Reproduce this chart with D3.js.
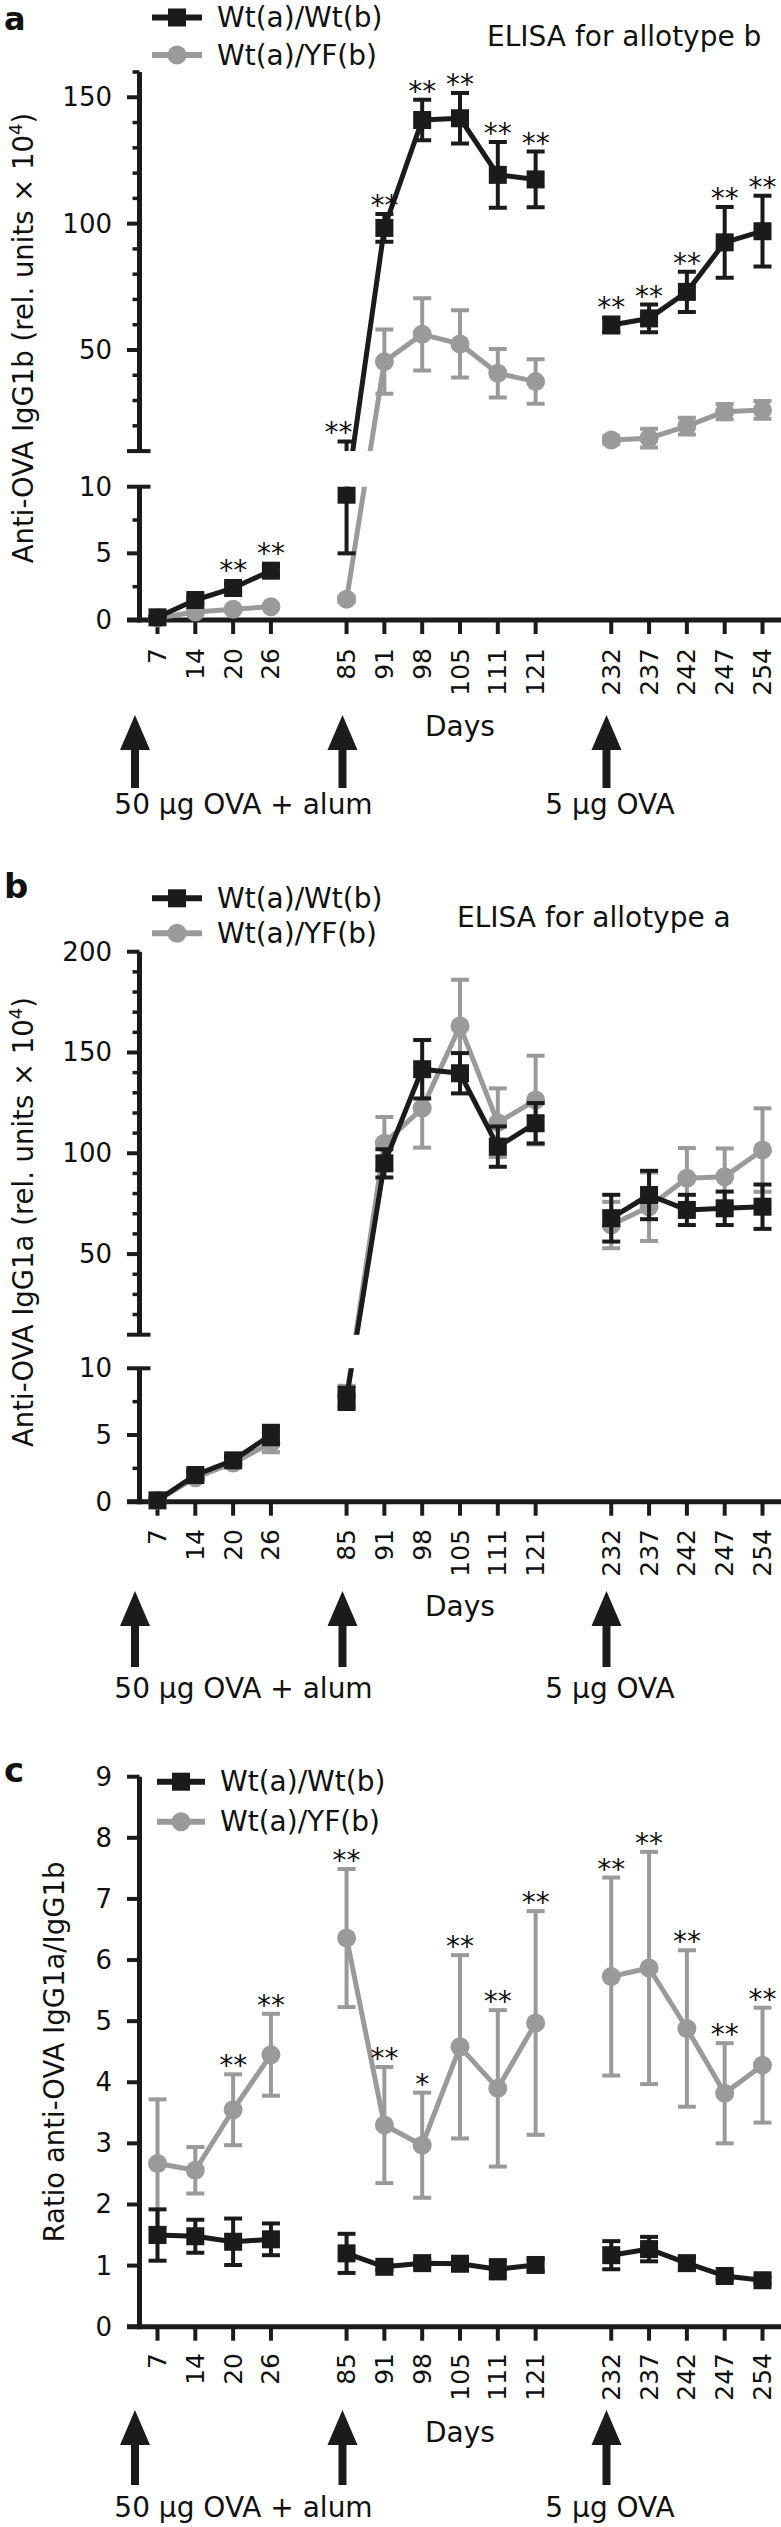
<!DOCTYPE html>
<html><head><meta charset="utf-8">
<script src="https://cdn.jsdelivr.net/npm/d3@7/dist/d3.min.js"></script>
<style>
body{margin:0;background:#fff}
text{font-family:"DejaVu Sans",sans-serif;fill:#111}
</style>
</head><body>
<svg id="chart" width="781" height="2527"></svg>
<script>
// ---------------- DATA ----------------
const dayGroups = [[7,14,20,26],[85,91,98,105,111,121],[232,237,242,247,254]];
const days = dayGroups.flat();
const seriesNames = ["Wt(a)/Wt(b)", "Wt(a)/YF(b)"];

// Panel a: ELISA for allotype b (rel. units x 10^4)
const aWt    = [0.2, 1.5, 2.4, 3.7, 9.4, 98.3, 141, 141.7, 119.3, 117.5, 59.9, 62.5, 73, 92.6, 97];
const aWtErr = [0.1, 0.2, 0.3, 0.3, 4.4, 5.5, 8, 10, 13, 11, 3, 5.5, 8, 14, 14];
const aYF    = [0.15, 0.6, 0.8, 1.0, 1.55, 45.4, 56.2, 52.4, 40.8, 37.5, 14.4, 15.1, 19.9, 25.6, 26.3];
const aYFErr = [0.05, 0.1, 0.1, 0.1, 0.2, 12.7, 14.3, 13.3, 9.6, 8.8, 1.5, 3.7, 3.3, 3, 3.5];
const aStars = ["", "", "**", "**", "**", "**", "**", "**", "**", "**", "**", "**", "**", "**", "**"];

// Panel b: ELISA for allotype a
const bWt    = [0.1, 2.0, 3.1, 5.0, 7.75, 95, 141.7, 139.7, 103.3, 114.9, 67.8, 79.3, 71.9, 72.7, 73.5];
const bWtErr = [0.1, 0.3, 0.3, 0.7, 0.8, 7, 14.5, 10, 10, 10, 11.6, 12, 7.5, 8.3, 11];
const bYF    = [0.1, 1.8, 2.9, 4.4, 7.9, 105, 122.3, 163.1, 115.2, 126.4, 64.4, 73.5, 87.6, 88.4, 101.6];
const bYFErr = [0.1, 0.3, 0.3, 0.7, 0.8, 13, 19.5, 23, 17, 22, 11.5, 17, 15, 14, 20.7];

// Panel c: ratio IgG1a/IgG1b
const cWt    = [1.50, 1.48, 1.39, 1.43, 1.20, 0.98, 1.04, 1.03, 0.94, 1.01, 1.17, 1.27, 1.04, 0.83, 0.76];
const cWtErr = [0.42, 0.27, 0.38, 0.26, 0.32, 0.05, 0.05, 0.05, 0.15, 0.10, 0.23, 0.20, 0.10, 0.05, 0.05];
const cYF    = [2.67, 2.56, 3.55, 4.45, 6.36, 3.30, 2.97, 4.58, 3.90, 4.97, 5.73, 5.87, 4.88, 3.82, 4.28];
const cYFErr = [1.05, 0.38, 0.58, 0.67, 1.13, 0.95, 0.86, 1.50, 1.28, 1.83, 1.62, 1.90, 1.28, 0.82, 0.94];
const cStars = ["", "", "**", "**", "**", "**", "*", "**", "**", "**", "**", "**", "**", "**", "**"];

const immunizations = ["50 \u00b5g OVA + alum", "5 \u00b5g OVA"];

// ---------------- STYLE / LAYOUT ----------------
const BLACK = "#1b1b1b", GREY = "#9a9a9a";
const svg = d3.select("#chart");
const defs = svg.append("defs");

const xDomain = [];
dayGroups.forEach((g, i) => { if (i > 0) xDomain.push("gap" + i); g.forEach(d => xDomain.push(String(d))); });
const x = d3.scalePoint().domain(xDomain).range([157.5, 762.5]);
const AXIS_X = 139.5;

const panels = [
  { id: "a", letter: "a", letterY: 30, letterSize: 32,
    segs: [ {dom:[10,160], rng:[451.1,72], majors:[50,100,150], minorStep:10, top:160},
            {dom:[0,10], rng:[620,486.7], majors:[0,5,10], minorStep:2.5} ],
    axisY: 620, series: [[aYF, aYFErr, GREY, "circle"], [aWt, aWtErr, BLACK, "square"]],
    stars: aStars, starSeries: 1, starNudge: {85: -8},
    legend: {y1: 17.5, y2: 55, x1: 152, x2: 202, tx: 217},
    title: "ELISA for allotype b", titleX: 487, titleY: 46,
    ylabel: ["Anti-OVA IgG1b (rel. units \u00d7 10", "4", ")"], ylabelX: 33, ylabelY: 338,
    tickTop: 648, daysY: 736, arrow: {tip: 715, base: 750, bottom: 788}, immY: 814 },
  { id: "b", letter: "b", letterY: 898, letterSize: 34,
    segs: [ {dom:[10,200], rng:[1334.7,951.7], majors:[50,100,150,200], minorStep:10, top:200},
            {dom:[0,10], rng:[1501.7,1368.3], majors:[0,5,10], minorStep:2.5} ],
    axisY: 1501.7, series: [[bYF, bYFErr, GREY, "circle"], [bWt, bWtErr, BLACK, "square"]],
    stars: null,
    legend: {y1: 898.3, y2: 933.3, x1: 152, x2: 202, tx: 217},
    title: "ELISA for allotype a", titleX: 457, titleY: 927,
    ylabel: ["Anti-OVA IgG1a (rel. units \u00d7 10", "4", ")"], ylabelX: 33, ylabelY: 1222,
    tickTop: 1529, daysY: 1616, arrow: {tip: 1591, base: 1626, bottom: 1667}, immY: 1698 },
  { id: "c", letter: "c", letterY: 1782, letterSize: 34,
    segs: [ {dom:[0,9], rng:[2326.7,1776.7], majors:d3.range(0,10), minorStep:null} ],
    axisY: 2326.7, series: [[cYF, cYFErr, GREY, "circle"], [cWt, cWtErr, BLACK, "square"]],
    stars: cStars, starSeries: 0,
    legend: {y1: 1781.7, y2: 1821.7, x1: 157, x2: 205, tx: 220},
    title: null,
    ylabel: ["Ratio anti-OVA IgG1a/IgG1b"], ylabelX: 64, ylabelY: 2052,
    tickTop: 2353, daysY: 2442, arrow: {tip: 2410, base: 2445, bottom: 2485}, immY: 2517 }
];

const arrowXs = [135, 342.5, 606.5];
const MS = 18; // marker size

function drawMarker(g, shape, cx, cy, color) {
  if (shape === "square") {
    g.append("rect").attr("x", cx - MS/2).attr("y", cy - MS/2).attr("width", MS).attr("height", MS).attr("fill", color);
  } else {
    g.append("circle").attr("cx", cx).attr("cy", cy).attr("r", MS/2 + 0.5).attr("fill", color);
  }
}

panels.forEach(p => {
  const g = svg.append("g");
  const scales = p.segs.map(s => d3.scaleLinear().domain(s.dom).range(s.rng));
  const yS = v => (p.segs.length === 1) ? scales[0](v) : (v > p.segs[1].dom[1] ? scales[0](v) : scales[1](v));

  // clip path = union of segment rects
  const clip = defs.append("clipPath").attr("id", "clip" + p.id);
  p.segs.forEach((s, i) => {
    const top = Math.min(...s.rng) - (i === 0 ? 40 : 0);
    const bot = Math.max(...s.rng) + (i === p.segs.length - 1 ? 16 : 0);
    clip.append("rect").attr("x", 100).attr("y", top).attr("width", 700).attr("height", bot - top);
  });

  // ---- axes ----
  const ax = g.append("g").attr("stroke", BLACK).attr("fill", "none");
  p.segs.forEach((s, i) => {
    const isBottom = i === p.segs.length - 1;
    const y0 = Math.max(...s.rng) + (isBottom ? 2.5 : 0), y1 = Math.min(...s.rng);
    ax.append("line").attr("x1", AXIS_X).attr("x2", AXIS_X).attr("y1", y0).attr("y2", y1).attr("stroke-width", 5);
    if (s.minorStep) {
      d3.range(s.dom[0], s.dom[1] + 0.001, s.minorStep).forEach(v => {
        if (s.majors.includes(v)) return;
        if (v === s.dom[0] && !isBottom) return;
        ax.append("line").attr("x1", AXIS_X - 7).attr("x2", AXIS_X).attr("y1", scales[i](v)).attr("y2", scales[i](v)).attr("stroke-width", 3.5);
      });
    }
    s.majors.forEach(v => {
      const yy = scales[i](v);
      const isBreakTop = isBottom && p.segs.length > 1 && v === s.dom[1];
      ax.append("line").attr("x1", AXIS_X - 12.5).attr("x2", isBreakTop ? AXIS_X + 11 : AXIS_X).attr("y1", yy).attr("y2", yy).attr("stroke-width", 4);
      g.append("text").attr("x", 112).attr("y", yy).attr("text-anchor", "end").attr("dominant-baseline", "central")
        .attr("font-size", 26).text(v);
    });
    if (!isBottom) {
      const yy = scales[i](s.dom[0]);
      ax.append("line").attr("x1", AXIS_X - 12.5).attr("x2", AXIS_X + 11).attr("y1", yy).attr("y2", yy).attr("stroke-width", 4);
    }
  });
  ax.append("line").attr("x1", 127).attr("x2", 781).attr("y1", p.axisY).attr("y2", p.axisY).attr("stroke-width", 5);
  days.forEach(d => {
    ax.append("line").attr("x1", x(String(d))).attr("x2", x(String(d))).attr("y1", p.axisY).attr("y2", p.axisY + 14).attr("stroke-width", 4);
    g.append("text").attr("transform", `translate(${x(String(d))},${p.tickTop}) rotate(-90)`)
      .attr("text-anchor", "end").attr("dominant-baseline", "central").attr("font-size", 25).text(d);
  });

  // ---- data ----
  const dg = g.append("g").attr("clip-path", `url(#clip${p.id})`);
  p.series.forEach(([vals, errs, color, shape]) => {
    const pts = days.map((d, i) => ({d, v: vals[i], e: errs[i]}));
    pts.forEach(pt => {
      const cx = x(String(pt.d)), ylo = yS(pt.v - pt.e), yhi = yS(pt.v + pt.e);
      dg.append("line").attr("x1", cx).attr("x2", cx).attr("y1", ylo).attr("y2", yhi).attr("stroke", color).attr("stroke-width", 4);
      [ylo, yhi].forEach(yy => dg.append("line").attr("x1", cx - 9).attr("x2", cx + 9).attr("y1", yy).attr("y2", yy)
        .attr("stroke", color).attr("stroke-width", 4));
    });
    const line = d3.line().x(pt => x(String(pt.d))).y(pt => yS(pt.v));
    dayGroups.forEach(grp => {
      const gp = pts.filter(pt => grp.includes(pt.d));
      dg.append("path").attr("d", line(gp)).attr("fill", "none").attr("stroke", color).attr("stroke-width", 5).attr("stroke-linejoin", "round");
    });
    pts.forEach(pt => drawMarker(dg, shape, x(String(pt.d)), yS(pt.v), color));
  });

  // ---- significance stars ----
  if (p.stars) {
    const [vals, errs] = p.series[p.starSeries];
    days.forEach((d, i) => {
      if (!p.stars[i]) return;
      const topY = Math.min(yS(vals[i] + errs[i]), yS(vals[i]) - MS/2);
      const nudge = (p.starNudge && p.starNudge[d]) || 0;
      g.append("text").attr("x", x(String(d)) + nudge).attr("y", topY + 1).attr("text-anchor", "middle")
        .attr("font-size", 28).text(p.stars[i]);
    });
  }

  // ---- legend ----
  const L = p.legend;
  [[L.y1, BLACK, "square", seriesNames[0]], [L.y2, GREY, "circle", seriesNames[1]]].forEach(([yy, color, shape, name]) => {
    g.append("line").attr("x1", L.x1).attr("x2", L.x2).attr("y1", yy).attr("y2", yy).attr("stroke", color).attr("stroke-width", 6);
    drawMarker(g, shape, (L.x1 + L.x2) / 2, yy, color);
    g.append("text").attr("x", L.tx).attr("y", yy + 9.5).attr("font-size", 28).text(name);
  });

  if (p.title) g.append("text").attr("x", p.titleX).attr("y", p.titleY).attr("font-size", 28).text(p.title);

  g.append("text").attr("x", 4).attr("y", p.letterY).attr("font-size", p.letterSize).attr("font-weight", "bold").text(p.letter);

  const yl = g.append("text").attr("transform", `translate(${p.ylabelX},${p.ylabelY}) rotate(-90)`)
    .attr("text-anchor", "middle").attr("font-size", 27.5);
  yl.append("tspan").text(p.ylabel[0]);
  if (p.ylabel.length > 1) {
    yl.append("tspan").attr("dy", -11).attr("font-size", 18).text(p.ylabel[1]);
    yl.append("tspan").attr("dy", 11).text(p.ylabel[2]);
  }

  g.append("text").attr("x", 460).attr("y", p.daysY).attr("text-anchor", "middle").attr("font-size", 28).text("Days");

  const A = p.arrow;
  arrowXs.forEach(ax0 => {
    g.append("path").attr("d", `M${ax0},${A.tip} L${ax0 + 15},${A.base} L${ax0 + 4},${A.base} L${ax0 + 4},${A.bottom} L${ax0 - 4},${A.bottom} L${ax0 - 4},${A.base} L${ax0 - 15},${A.base} Z`)
      .attr("fill", BLACK);
  });
  g.append("text").attr("x", 243.5).attr("y", p.immY).attr("text-anchor", "middle").attr("font-size", 28).text(immunizations[0]);
  g.append("text").attr("x", 610).attr("y", p.immY).attr("text-anchor", "middle").attr("font-size", 28).text(immunizations[1]);
});
</script>
</body></html>
